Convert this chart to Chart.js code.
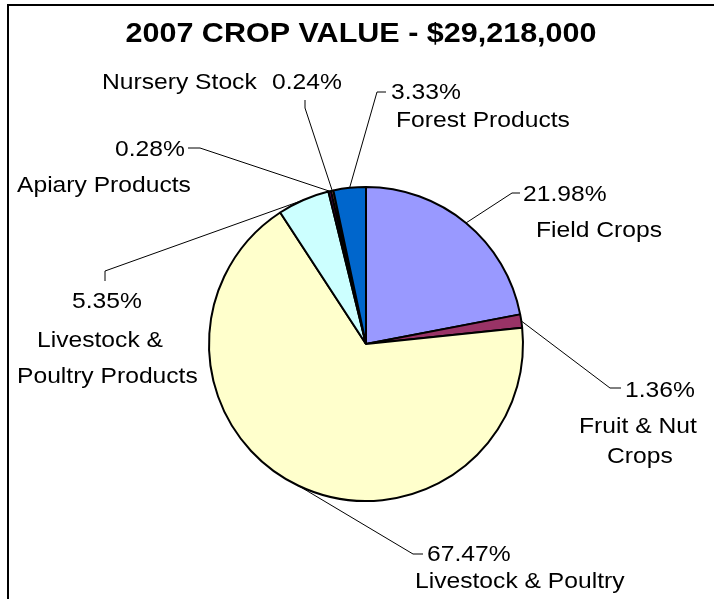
<!DOCTYPE html>
<html>
<head>
<meta charset="utf-8">
<script src="https://cdn.jsdelivr.net/npm/chart.js@4"></script>
<style>
  html, body { margin: 0; padding: 0; background: #fff; }
  #wrap { width: 714px; height: 599px; }
</style>
</head>
<body>
<div id="wrap"><canvas id="crop-chart" width="714" height="599"></canvas></div>
<script>
const title = '2007 CROP VALUE - $29,218,000';
const categories = ['Field Crops', 'Fruit & Nut Crops', 'Livestock & Poultry', 'Livestock & Poultry Products', 'Apiary Products', 'Nursery Stock', 'Forest Products'];
const percents = [21.98, 1.36, 67.47, 5.35, 0.28, 0.24, 3.33];
const colors = ['#9999FF', '#993366', '#FFFFCC', '#CCFFFF', '#660066', '#FF8080', '#0066CC'];

// where each label sits and how its leader line bends (pixels)
const labelLayout = [
    { elbow: [512, 193], end: [520, 193], pct: [523, 201], name: [['Field Crops', 536, 237]] },
    { elbow: [610, 388], end: [621, 388], pct: [625, 397], name: [['Fruit & Nut', 579, 433], ['Crops', 607, 463]] },
    { elbow: [413, 554], end: [423, 554], pct: [427, 561], name: [['Livestock & Poultry', 415, 588]] },
    { elbow: [105, 271], end: [105, 281], pct: [72, 308], name: [['Livestock &', 37, 347], ['Poultry Products', 17, 383]] },
    { elbow: [200, 148], end: [188, 148], pct: [115, 156], name: [['Apiary Products', 17, 192]] },
    { elbow: [305, 108], end: [305, 100], pct: [272, 89], name: [['Nursery Stock', 102, 89]] },
    { elbow: [377, 92], end: [386, 92], pct: [391, 99], name: [['Forest Products', 396, 127]] }
];

function stretchedText(ctx, text, x, y, stretch) {
    ctx.save();
    ctx.translate(x, y);
    ctx.scale(stretch, 1);
    ctx.fillText(text, 0, 0);
    ctx.restore();
}

const decorations = {
    id: 'decorations',
    beforeDraw(chart) {
        const ctx = chart.ctx;
        ctx.save();
        ctx.fillStyle = '#fff';
        ctx.fillRect(0, 0, chart.width, chart.height);
        // frame
        ctx.strokeStyle = '#000';
        ctx.lineWidth = 2;
        ctx.beginPath();
        ctx.moveTo(8, 599);
        ctx.lineTo(8, 5);
        ctx.lineTo(714, 5);
        ctx.stroke();
        // title
        ctx.fillStyle = '#000';
        ctx.font = 'bold 28px "Liberation Sans", Arial, sans-serif';
        ctx.textBaseline = 'alphabetic';
        const w = ctx.measureText(title).width * 1.09;
        stretchedText(ctx, title, 361 - w / 2, 42, 1.09);
        ctx.restore();
    },
    afterDatasetsDraw(chart) {
        const ctx = chart.ctx;
        const arcs = chart.getDatasetMeta(0).data;
        ctx.save();
        ctx.strokeStyle = '#000';
        ctx.lineWidth = 1;
        ctx.fillStyle = '#000';
        ctx.font = '22px "Liberation Sans", Arial, sans-serif';
        ctx.textBaseline = 'alphabetic';
        arcs.forEach((arc, i) => {
            const lay = labelLayout[i];
            const mid = (arc.startAngle + arc.endAngle) / 2;
            const sx = arc.x + Math.cos(mid) * arc.outerRadius;
            const sy = arc.y + Math.sin(mid) * arc.outerRadius;
            ctx.beginPath();
            ctx.moveTo(sx, sy);
            ctx.lineTo(lay.elbow[0], lay.elbow[1]);
            ctx.lineTo(lay.end[0], lay.end[1]);
            ctx.stroke();
            stretchedText(ctx, percents[i].toFixed(2) + '%', lay.pct[0], lay.pct[1], 1.12);
            lay.name.forEach(n => stretchedText(ctx, n[0], n[1], n[2], 1.12));
        });
        ctx.restore();
    }
};

new Chart(document.querySelector('#crop-chart').getContext('2d'), {
    type: 'pie',
    data: {
        labels: categories,
        datasets: [{
            data: percents,
            backgroundColor: colors,
            borderColor: '#000',
            borderWidth: 2
        }]
    },
    options: {
        responsive: false,
        animation: false,
        layout: { padding: { top: 186, bottom: 97, left: 52, right: 34 } },
        plugins: {
            legend: { display: false },
            title: { display: false },
            tooltip: { enabled: false }
        }
    },
    plugins: [decorations]
});
</script>
</body>
</html>
